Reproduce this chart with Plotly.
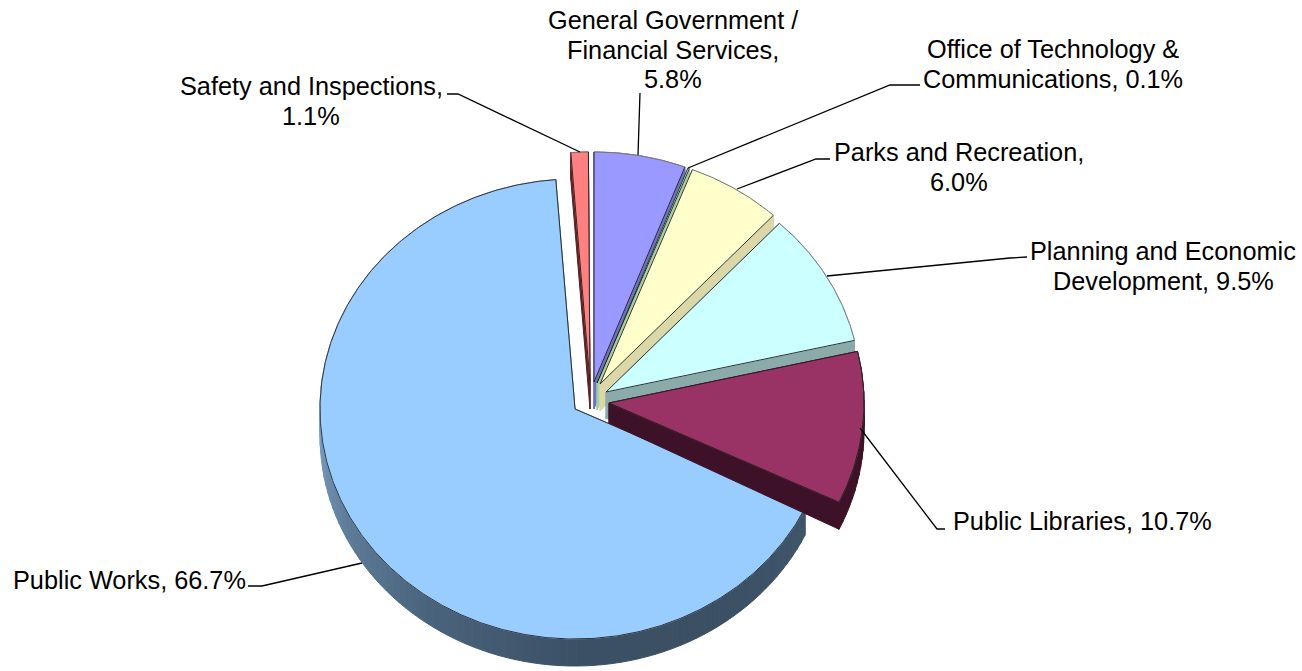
import numpy as np
import plotly.graph_objects as go

# Budget shares, in clockwise order from twelve o'clock
departments = [
    "General Government / Financial Services",
    "Office of Technology & Communications",
    "Parks and Recreation",
    "Planning and Economic Development",
    "Public Libraries",
    "Public Works",
    "Safety and Inspections",
]
shares = [5.8, 0.1, 6.0, 9.5, 10.7, 66.7, 1.1]

# Label text per department, broken into lines; {v} takes the share
label_lines = [
    ["General Government /", "Financial Services,", "{v}%"],
    ["Office of Technology &", "Communications, {v}%"],
    ["Parks and Recreation,", "{v}%"],
    ["Planning and Economic", "Development, {v}%"],
    ["Public Libraries, {v}%"],
    ["Public Works, {v}%"],
    ["Safety and Inspections,", "{v}%"],
]

# Paper-pixel layout of the exploded disc
RX, RY, DEPTH = 255.0, 230.0, 27.0
origins = [(594, 382), (597, 383), (600, 384), (606, 392), (609, 403), (575, 409), (590, 382)]
tip_depths = [27, 27, 27, 27, 20, 27, 27]
top_colors = ["#9999FF", "#CCFFCC", "#FFFFCC", "#CCFFFF", "#993366", "#99CCFF", "#FF8080"]
wall_colors = ["#6F6FC4", "#A3CFA3", "#DAD8A8", "#8AABA9", "#3D1228", "#3F556B", "#5E2020"]
arc_colors = ["#777777", "#777777", "#777777", "#777777", "#222222", "#333333", "#777777"]
draw_order = [6, 0, 1, 2, 3, 5, 4]

label_anchor_x = [673, 1053, 959, 1163, 1082, 129, 311]
label_anchor_y = [20, 49, 152, 251, 521, 580, 86]
LINE_STEP = 29.7

leader_x = [
    [640, 638], [920, 890, 688], [830, 816, 737], [1027, 1010, 827],
    [945, 937, 860], [248, 262, 362], [447, 458, 580],
]
leader_y = [
    [93, 155], [85, 85, 168], [159, 159, 189], [257, 258, 276],
    [529, 529, 428], [586, 586, 563], [94, 94, 152],
]

# Side shading of the large slice, lit from the left
shade_angles = [115, 150, 180, 215, 245, 270, 300]
shade_r = [64, 60, 60, 75, 96, 124, 124]
shade_g = [86, 80, 81, 100, 127, 160, 160]
shade_b = [107, 100, 102, 125, 155, 200, 200]


def rim_point(origin, deg, drop=0.0):
    a = np.radians(deg)
    return origin[0] + RX * np.sin(a), origin[1] - RY * np.cos(a) + drop


def polygon(xs, ys, fill, line=None, width=1.0):
    return go.Scatter(
        x=list(xs), y=list(ys), mode="lines", fill="toself", fillcolor=fill,
        line=dict(color=line or fill, width=width), hoverinfo="skip", showlegend=False,
    )


def stroke(xs, ys, color, width=1.0):
    return go.Scatter(
        x=list(xs), y=list(ys), mode="lines", line=dict(color=color, width=width),
        hoverinfo="skip", showlegend=False,
    )


bounds = np.concatenate([[0.0], np.cumsum(shares)]) * 3.6
fig = go.Figure()

for i in draw_order:
    start, end = bounds[i], bounds[i + 1]
    o = origins[i]
    tip_drop = tip_depths[i]

    # Cut faces along both radial edges
    for deg in (start, end):
        rx, ry = rim_point(o, deg)
        fig.add_trace(polygon(
            [o[0], rx, rx, o[0], o[0]],
            [o[1], ry, ry + DEPTH, o[1] + tip_drop, o[1]],
            wall_colors[i],
        ))

    # Outer wall, split into bands so the shading can follow the angle
    n = max(2, int((end - start) / 2))
    edges = np.linspace(start, end, n + 1)
    for a0, a1 in zip(edges[:-1], edges[1:]):
        arc = np.linspace(a0, a1, 4)
        xs, ys = rim_point(o, arc)
        if i == 5:
            mid = (a0 + a1) / 2
            c = (
                np.interp(mid, shade_angles, shade_r),
                np.interp(mid, shade_angles, shade_g),
                np.interp(mid, shade_angles, shade_b),
            )
            col = "rgb(%d,%d,%d)" % c
        else:
            col = wall_colors[i]
        fig.add_trace(polygon(
            np.concatenate([xs, xs[::-1], xs[:1]]),
            np.concatenate([ys, ys[::-1] + DEPTH, ys[:1]]),
            col,
        ))

    # Top face with a black cut edge and a softer rim
    arc = np.linspace(start, end, max(8, int((end - start) * 2)))
    xs, ys = rim_point(o, arc)
    fig.add_trace(polygon(
        np.concatenate([[o[0]], xs, [o[0]]]),
        np.concatenate([[o[1]], ys, [o[1]]]),
        top_colors[i],
    ))
    fig.add_trace(stroke(xs, ys, arc_colors[i], 1.0))
    fig.add_trace(stroke([xs[0], o[0], xs[-1]], [ys[0], o[1], ys[-1]], "#1A1A1A", 0.9))

# Leader lines
for lx, ly in zip(leader_x, leader_y):
    fig.add_trace(stroke(lx, ly, "#000000", 1.3))

# Category labels, one annotation per line to hold the line pitch
annotations = []
for lines, share, ax, ay in zip(label_lines, shares, label_anchor_x, label_anchor_y):
    for k, text in enumerate(lines):
        annotations.append(dict(
            x=ax, y=ay + k * LINE_STEP, xref="x", yref="y", showarrow=False,
            text=text.format(v=f"{share:.1f}"), xanchor="center", yanchor="middle",
            font=dict(family="Liberation Sans", size=25.3, color="#000000"),
        ))

fig.update_layout(
    width=1302, height=671, margin=dict(l=0, r=0, t=0, b=0),
    paper_bgcolor="#FFFFFF", plot_bgcolor="#FFFFFF", showlegend=False,
    xaxis=dict(range=[0, 1302], visible=False, fixedrange=True),
    yaxis=dict(range=[671, 0], visible=False, fixedrange=True),
    annotations=annotations,
)
fig.write_html("out.html", config={"displayModeBar": False})
